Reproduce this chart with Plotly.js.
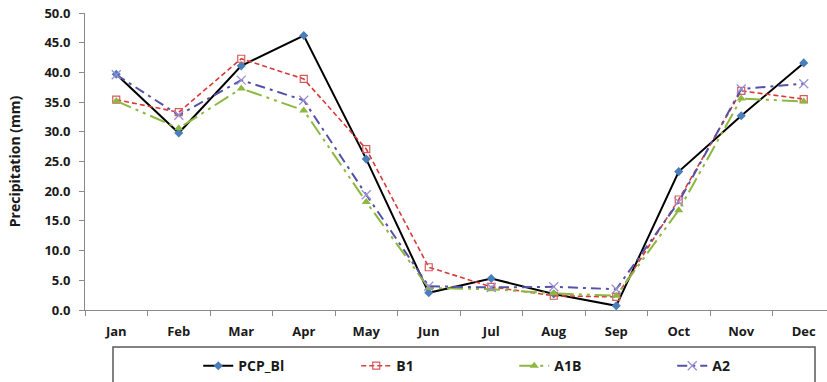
<!DOCTYPE html>
<html>
<head>
<meta charset="utf-8">
<script src="https://cdn.plot.ly/plotly-3.0.1.min.js"></script>
<style>
html,body{margin:0;padding:0;overflow:hidden;background:#fff;}
#chart{width:840px;height:382px;}
</style>
</head>
<body>
<div id="chart"></div>
<script>
const months = ['Jan','Feb','Mar','Apr','May','Jun','Jul','Aug','Sep','Oct','Nov','Dec'];
const pcpBl = [39.7, 29.8, 41.1, 46.2, 25.4, 2.9, 5.3, 2.7, 0.7, 23.3, 32.7, 41.6];
const b1    = [35.4, 33.3, 42.3, 38.9, 27.1, 7.2, 3.9, 2.4, 2.2, 18.6, 36.9, 35.5];
const a1b   = [35.2, 30.6, 37.3, 33.6, 18.2, 3.7, 3.5, 2.8, 2.4, 16.8, 35.6, 35.1];
const a2    = [39.6, 32.8, 38.7, 35.3, 19.4, 4.0, 3.8, 3.9, 3.5, 18.2, 37.2, 38.1];
const seriesNames = ['PCP_Bl', 'B1', 'A1B', 'A2'];

const traces = [
  {x: months, y: pcpBl, name: seriesNames[0], mode: 'lines+markers',
   line: {color: '#000000', width: 2},
   marker: {symbol: 'diamond', color: '#4a7ebb', size: 7}},
  {x: months, y: b1, name: seriesNames[1], mode: 'lines+markers',
   line: {color: '#d93a3a', width: 1.6, dash: '5px,3px'},
   marker: {symbol: 'square-open', color: '#d65a5a', size: 7, line: {width: 1.2}}},
  {x: months, y: a1b, name: seriesNames[2], mode: 'lines+markers',
   line: {color: '#8db83f', width: 2, dash: '16px,5px,3px,5px,3px,5px'},
   marker: {symbol: 'triangle-up', color: '#8db83f', size: 8}},
  {x: months, y: a2, name: seriesNames[3], mode: 'lines+markers',
   line: {color: '#5552a6', width: 2, dash: '10px,5px,3px,5px'},
   marker: {symbol: 'x-thin-open', color: '#9a8fd6', size: 9, line: {width: 1.3, color: '#9a8fd6'}}}
];

const fam = '"Open Sans", "Noto Sans", sans-serif';
const font = {family: fam, size: 13, color: '#1a1a1a', weight: 'bold'};

const layout = {
  width: 840, height: 382,
  margin: {l: 85, r: 5, t: 13, b: 72, autoexpand: false},
  paper_bgcolor: '#ffffff', plot_bgcolor: '#ffffff',
  font: font,
  showlegend: true,
  xaxis: {
    type: 'category', range: [-0.5, 11.5],
    showline: true, linecolor: '#8a8a8a', linewidth: 1,
    ticks: 'outside', tickson: 'boundaries', ticklen: 5, tickcolor: '#8a8a8a',
    showgrid: false, zeroline: false,
    ticklabelstandoff: 9,
    tickfont: {family: fam, size: 13, color: '#1a1a1a', weight: 'bold'}
  },
  yaxis: {
    range: [0, 50], dtick: 5, tickformat: '.1f',
    showline: true, linecolor: '#8a8a8a', linewidth: 1,
    ticks: 'outside', ticklen: 5, tickcolor: '#8a8a8a',
    showgrid: false, zeroline: false,
    ticklabelstandoff: 6,
    tickfont: {family: fam, size: 13, color: '#1a1a1a', weight: 'bold'},
    title: {text: 'Precipitation (mm)', standoff: 20,
            font: {family: fam, size: 14, color: '#1a1a1a', weight: 'bold'}}
  },
  legend: {
    orientation: 'h', x: 0.151, xanchor: 'left', y: -0.135, yanchor: 'top',
    entrywidth: 113, entrywidthmode: 'pixels', itemwidth: 30,
    bgcolor: 'rgba(0,0,0,0)', borderwidth: 0,
    font: {family: fam, size: 14, color: '#1a1a1a', weight: 'bold'}
  },
  shapes: [{
    type: 'rect', xref: 'paper', yref: 'paper',
    x0: (113 - 85) / 750, x1: (815 - 85) / 750,
    y0: -0.32, y1: -0.1246,
    line: {color: '#5a5a5a', width: 1.5}, fillcolor: 'rgba(0,0,0,0)', layer: 'above'
  }]
};

Plotly.newPlot('chart', traces, layout, {displayModeBar: false, staticPlot: true});
</script>
</body>
</html>
